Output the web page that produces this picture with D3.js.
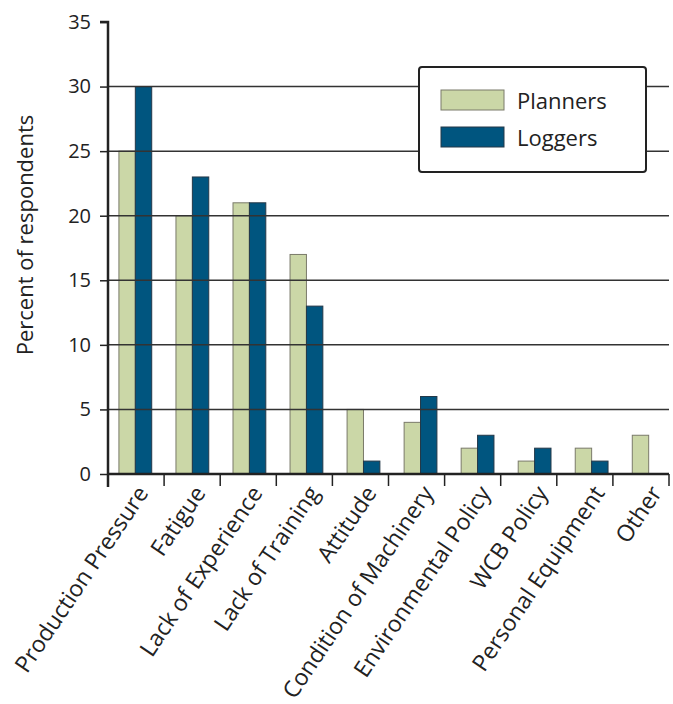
<!DOCTYPE html>
<html>
<head>
<meta charset="utf-8">
<script src="https://cdn.jsdelivr.net/npm/d3@7"></script>
<style>
html,body{margin:0;padding:0;background:#fff;}
svg{display:block;font-family:"Open Sans",sans-serif;}
</style>
</head>
<body>
<svg id="chart" width="673" height="704"></svg>
<script>
const categories = ["Production Pressure","Fatigue","Lack of Experience","Lack of Training","Attitude","Condition of Machinery","Environmental Policy","WCB Policy","Personal Equipment","Other"];
const seriesNames = ["Planners","Loggers"];
const planners = [25,20,21,17,5,4,2,1,2,3];
const loggers  = [30,23,21,13,1,6,3,2,1,0];
const yTicks = [0,5,10,15,20,25,30,35];
const colors = ["#cbd7a7","#00557f"];

(function(){
const svg = d3.select("#chart");
const mLeft = 108, mRight = 669, mTop = 22, mBottom = 474;

const y = d3.scaleLinear().domain([0,35]).range([mBottom, mTop]);
const xTick = d3.scaleBand().domain(categories).range([mLeft, mRight]);
const x0 = d3.scaleBand().domain(categories).range([106.8, 677.2]);
const bw = 16.4;
const x1 = d3.scaleBand().domain(seriesNames).range([x0.bandwidth()/2 - bw, x0.bandwidth()/2 + bw]);
const color = d3.scaleOrdinal().domain(seriesNames).range(colors);

const data = categories.map((c,i)=>({cat:c, vals:[{s:"Planners",v:planners[i]},{s:"Loggers",v:loggers[i]}]}));

// bars
const g = svg.append("g");
g.selectAll("g.cat").data(data).join("g")
  .attr("transform", d=>`translate(${x0(d.cat)},0)`)
  .selectAll("rect").data(d=>d.vals.filter(e=>e.v>0)).join("rect")
  .attr("x", d=>x1(d.s))
  .attr("width", x1.bandwidth())
  .attr("y", d=>y(d.v))
  .attr("height", d=>mBottom - y(d.v))
  .attr("fill", d=>color(d.s))
  .attr("stroke", d=> d.s==="Planners" ? "#7a7a6a" : "#243848")
  .attr("stroke-width", 1);

// gridlines (on top of bars)
svg.append("g").selectAll("line").data(yTicks.filter(t=>t>0 && t<35)).join("line")
  .attr("x1", mLeft).attr("x2", mRight)
  .attr("y1", d=>y(d)).attr("y2", d=>y(d))
  .attr("stroke", "#333").attr("stroke-width", 1.5);

// y axis
const yAxis = d3.axisLeft(y).tickValues(yTicks).tickSize(8).tickPadding(9);
const ya = svg.append("g").attr("transform", `translate(${mLeft},0)`).call(yAxis);
ya.select(".domain").attr("stroke","#222").attr("stroke-width",2.5).attr("d", `M-8,${mTop}H0V${mBottom+13}`);
ya.selectAll(".tick line").attr("stroke","#222").attr("stroke-width",1.5);
ya.selectAll(".tick text").attr("font-size",20).attr("fill","#222").attr("font-family","Open Sans");

// x axis
const xa = svg.append("g");
xa.append("line").attr("x1", mLeft-1).attr("x2", mRight).attr("y1", mBottom).attr("y2", mBottom)
  .attr("stroke","#222").attr("stroke-width",2.5);
const tickPos = categories.map(c=>xTick(c)).concat([mRight]);
xa.selectAll("line.t").data(tickPos).join("line").attr("class","t")
  .attr("x1", d=>d).attr("x2", d=>d).attr("y1", mBottom).attr("y2", mBottom+12)
  .attr("stroke","#222").attr("stroke-width",1.5);
xa.selectAll("text").data(categories).join("text")
  .attr("transform", d=>`translate(${x0(d)+x0.bandwidth()/2+14},${mBottom+19}) rotate(-56)`)
  .attr("text-anchor","end")
  .attr("font-size",23).attr("fill","#222")
  .text(d=>d);

// y title
svg.append("text")
  .attr("transform", `translate(33,235) rotate(-90)`)
  .attr("text-anchor","middle")
  .attr("font-size",22).attr("fill","#222")
  .text("Percent of respondents");

// legend
const lg = svg.append("g");
lg.append("rect").attr("x",419).attr("y",67).attr("width",227).attr("height",105).attr("rx",3)
  .attr("fill","#fff").attr("stroke","#222").attr("stroke-width",2);
const li = lg.selectAll("g.li").data(seriesNames).join("g")
  .attr("transform",(d,i)=>`translate(441,${90+i*37})`);
li.append("rect").attr("width",63).attr("height",20)
  .attr("fill",d=>color(d)).attr("stroke",d=>d==="Planners"?"#7a7a6a":"#243848").attr("stroke-width",1);
li.append("text").attr("x",76).attr("y",19).attr("font-size",22).attr("fill","#222").text(d=>d);
})();
</script>
</body>
</html>
